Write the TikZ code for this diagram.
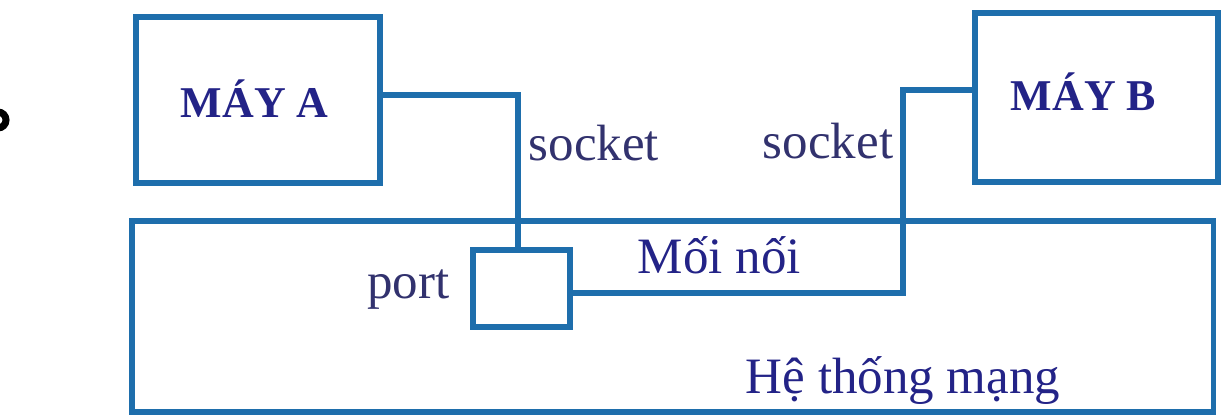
\documentclass[tikz,border=0pt]{standalone}
\usepackage{fontspec}
\setmainfont{Liberation Serif}
\usetikzlibrary{positioning}
\definecolor{wireblue}{RGB}{30,110,172}
\definecolor{textnavy}{RGB}{50,50,110}
\definecolor{boldnavy}{RGB}{35,35,135}

\begin{document}
\begin{tikzpicture}[x=0.01cm,y=-0.01cm,line width=1.6pt,
        box/.style={draw=wireblue,rectangle,inner sep=0pt},
        lbl/.style={inner sep=0pt,text=textnavy,font=\fontsize{14.5}{17}\selectfont},
        hostlbl/.style={inner sep=0pt,text=boldnavy,font=\fontsize{12.5}{15}\selectfont\bfseries},
        wire/.style={draw=wireblue,line width=1.5pt}]
        \useasboundingbox (0,0) rectangle (1227,417);
        \draw[black,line width=2pt] (-2,120) circle (8);
        \node[box,minimum width=2.44cm,minimum height=1.66cm] (maya) at (258,100) {};
        \node[box,minimum width=2.43cm,minimum height=1.69cm] (mayb) at (1096.5,97.5) {};
        \node[box,minimum width=10.81cm,minimum height=1.91cm] (net) at (672.5,316.5) {};
        \node[box,fill=white,minimum width=0.97cm,minimum height=0.77cm] (port) at (521.5,288.5) {};
        \coordinate (bend) at (903,90);
        \draw[wire] ([yshift=1.4pt]maya.east) -| ([xshift=-1pt]port.north);
        \draw[wire] ([yshift=-1.3pt]port.east) -| (bend) -- (mayb.west |- bend);
        \node[hostlbl,anchor=base west] (lblA) at (178,117) {MÁY A};
        \node[hostlbl,anchor=base west] (lblB) at (1008,110) {MÁY B};
        \node[lbl,anchor=base west] (sockA) at (526,160) {socket};
        \node[lbl,anchor=base east] (sockB) at (896,158) {socket};
        \node[lbl,anchor=base east] (portlbl) at (452,298) {port};
        \node[lbl,text=boldnavy,anchor=base west] (joint) at (635,273) {Mối nối};
        \node[lbl,text=boldnavy,anchor=base west] (netlbl) at (743,393) {Hệ thống mạng};
    \end{tikzpicture}
\end{document}
